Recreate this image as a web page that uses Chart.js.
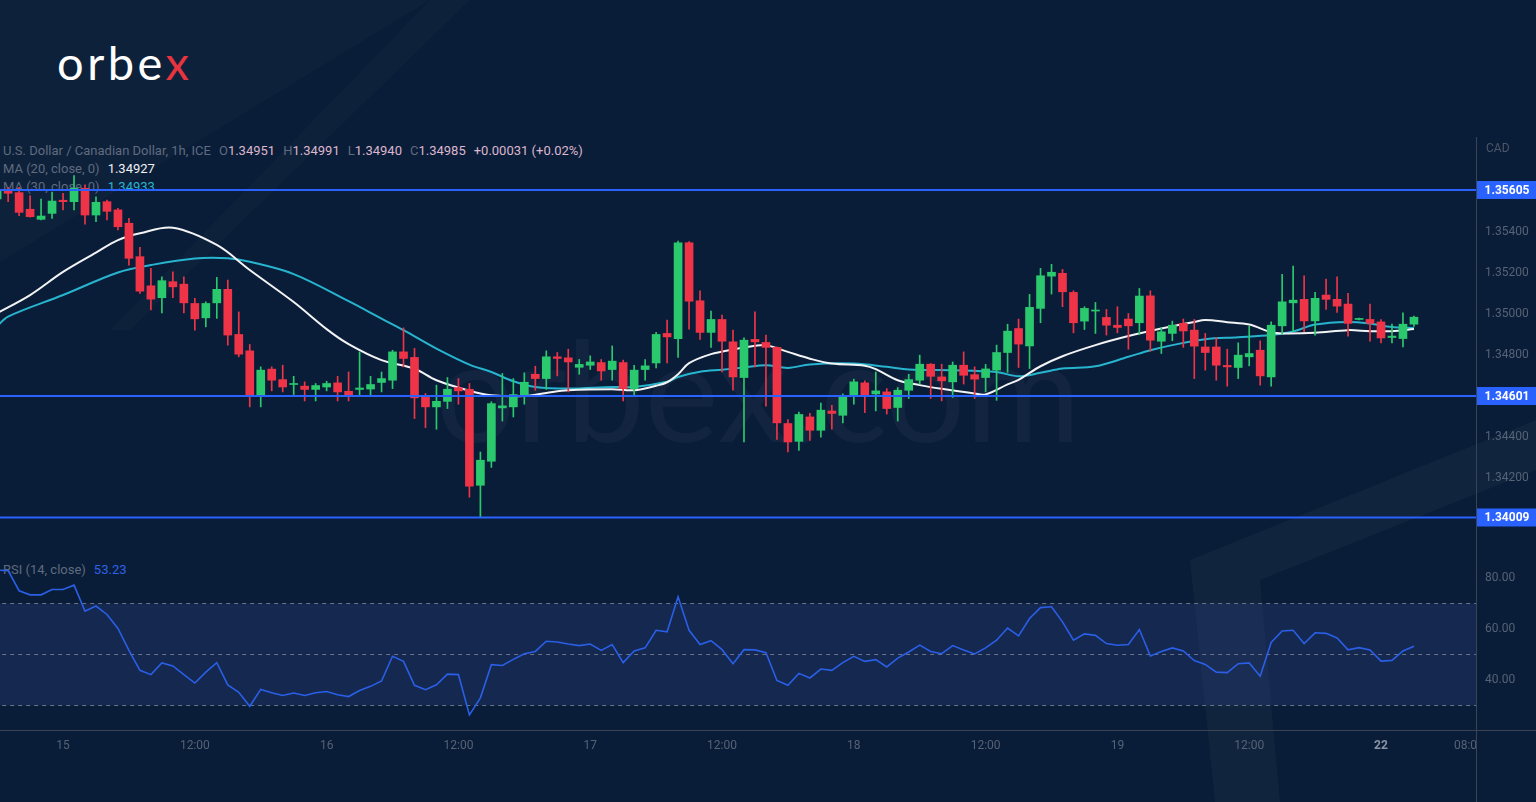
<!DOCTYPE html>
<html>
<head>
<meta charset="utf-8">
<script src="https://cdn.jsdelivr.net/npm/chart.js@4.4.1/dist/chart.umd.min.js"></script>
<style>
  html, body { margin: 0; padding: 0; }
  body {
    width: 1536px; height: 802px; overflow: hidden; position: relative;
    background: #0a1d38; font-family: Roboto, "Noto Sans", sans-serif;
  }
  .abs { position: absolute; }
  canvas { position: absolute; left: 0; z-index: 3; }
  #price { top: 137px; }
  #rsi { top: 552px; }
  .logo { left: 57px; top: 34px; font-family: Lato, sans-serif; font-size: 47px; color: #fff; letter-spacing: 3.5px; z-index: 5; }
  .logo span { color: #e8343f; }
  .mark { left: 436px; top: 318px; font-family: Lato, sans-serif; font-size: 140px; color: rgba(255,255,255,0.035); z-index: 1; line-height: 1; }
  .legend { left: 3px; font-size: 13px; color: #5f6b7e; z-index: 2; white-space: nowrap; line-height: 15px; }
  .legend .v { color: #dcb7cf; }
  .legend .g { margin-left: 8px; }
  .axisv { left: 1476px; top: 137px; width: 1px; height: 665px; background: #3a4454; z-index: 4; }
  .axish { left: 0; top: 730px; width: 1536px; height: 1px; background: #3a4454; z-index: 4; }
  .cad { left: 1486px; top: 141px; font-size: 12px; color: #4c5668; z-index: 4; }
</style>
</head>
<body>
<svg class="abs" style="left:0;top:0;z-index:0" width="1536" height="802">
  <polygon points="0,262 0,0 430,0" fill="rgba(255,255,255,0.02)"/>
  <polygon points="430,0 470,0 130,330 110,330" fill="rgba(255,255,255,0.018)"/>
  <polygon points="1190,560 1536,420 1536,470 1260,580 1280,802 1215,802" fill="rgba(255,255,255,0.03)"/>
</svg>
<div class="abs logo">orbe<span>x</span></div>
<div class="abs mark">orbex.com</div>
<div class="abs legend" style="top:143px">U.S. Dollar / Canadian Dollar, 1h, ICE<span class="g">O</span><span class="v">1.34951</span><span class="g">H</span><span class="v">1.34991</span><span class="g">L</span><span class="v">1.34940</span><span class="g">C</span><span class="v">1.34985</span><span class="g v">+0.00031 (+0.02%)</span></div>
<div class="abs legend" style="top:161px">MA (20, close, 0)<span class="g" style="color:#eef0f4">1.34927</span></div>
<div class="abs legend" style="top:179px">MA (30, close, 0)<span class="g" style="color:#27b4cf">1.34933</span></div>
<div class="abs legend" style="top:562px">RSI (14, close)<span class="g" style="color:#2c62e8">53.23</span></div>
<div class="abs cad">CAD</div>
<div class="abs axisv"></div>
<div class="abs axish"></div>
<canvas id="price" width="1536" height="415"></canvas>
<canvas id="rsi" width="1536" height="250"></canvas>
<script>
// hours counted from 15th 00:00, first candle is 14th 18:00
const firstHour = -6;

const opens = [1.35561,1.35600,1.35592,1.35511,1.35462,1.35491,1.35555,1.35548,1.35613,1.35483,1.35548,1.35508,1.35443,1.35280,1.35138,1.35080,1.35158,1.35146,1.35052,1.34982,
  1.35055,1.35121,1.34901,1.34821,1.34601,1.34732,1.34681,1.34657,1.34649,1.34633,1.34645,1.34665,1.34624,1.34633,1.34635,1.34667,1.34678,1.34816,1.34789,1.34598,
  1.34548,1.34575,1.34642,1.34633,1.34166,1.34283,1.34543,1.34548,1.34602,1.34707,1.34686,1.34792,1.34787,1.34741,1.34751,1.34764,1.34730,1.34764,1.34637,1.34730,
  1.34762,1.34906,1.34881,1.35348,1.35065,1.34911,1.34974,1.34865,1.34691,1.34877,1.34862,1.34838,1.34467,1.34380,1.34499,1.34434,1.34528,1.34507,1.34598,1.34665,
  1.34611,1.34621,1.34545,1.34629,1.34678,1.34756,1.34694,1.34670,1.34751,1.34705,1.34691,1.34727,1.34813,1.34930,1.34845,1.35028,1.35185,1.35199,1.35106,1.34966,
  1.35015,1.34984,1.34946,1.34976,1.34958,1.35089,1.34868,1.34906,1.34955,1.34922,1.34840,1.34840,1.34750,1.34740,1.34792,1.34824,1.34694,1.34943,1.35055,1.35072,
  1.34967,1.35093,1.35072,1.35049,1.34974,1.34974,1.34962,1.34886,1.34881,1.34951];
const highs = [1.35612,1.35618,1.35618,1.35576,1.35561,1.35595,1.35589,1.35675,1.35630,1.35572,1.35556,1.35516,1.35467,1.35326,1.35223,1.35182,1.35206,1.35182,1.35077,1.35060,
  1.35179,1.35166,1.35011,1.34852,1.34743,1.34743,1.34751,1.34697,1.34670,1.34662,1.34673,1.34697,1.34718,1.34816,1.34697,1.34718,1.34824,1.34933,1.34833,1.34613,
  1.34654,1.34691,1.34686,1.34662,1.34328,1.34573,1.34711,1.34686,1.34714,1.34746,1.34821,1.34813,1.34829,1.34779,1.34797,1.34779,1.34845,1.34776,1.34751,1.34779,
  1.34911,1.34971,1.35356,1.35353,1.35114,1.35015,1.34995,1.34922,1.34884,1.35011,1.34898,1.34841,1.34486,1.34523,1.34516,1.34567,1.34556,1.34611,1.34683,1.34675,
  1.34718,1.34637,1.34642,1.34707,1.34800,1.34759,1.34756,1.34767,1.34816,1.34743,1.34755,1.34849,1.34951,1.34976,1.35096,1.35223,1.35243,1.35218,1.35114,1.35036,
  1.35057,1.35023,1.35036,1.35003,1.35125,1.35114,1.34935,1.34966,1.34976,1.34974,1.34906,1.34886,1.34829,1.34860,1.34941,1.34870,1.34962,1.35194,1.35234,1.35187,
  1.35106,1.35171,1.35182,1.35101,1.34981,1.35049,1.34974,1.34951,1.35006,1.34991];
const lows = [1.35545,1.35548,1.35480,1.35472,1.35459,1.35467,1.35508,1.35508,1.35438,1.35450,1.35459,1.35410,1.35239,1.35101,1.35020,1.35006,1.35080,1.35006,1.34922,1.34938,
  1.34979,1.34849,1.34792,1.34548,1.34548,1.34626,1.34621,1.34608,1.34577,1.34577,1.34626,1.34577,1.34577,1.34601,1.34601,1.34621,1.34637,1.34743,1.34491,1.34447,
  1.34439,1.34540,1.34561,1.34108,1.34009,1.34253,1.34479,1.34499,1.34561,1.34629,1.34633,1.34699,1.34621,1.34707,1.34730,1.34678,1.34678,1.34577,1.34602,1.34678,
  1.34738,1.34762,1.34789,1.34927,1.34877,1.34838,1.34718,1.34629,1.34377,1.34743,1.34551,1.34389,1.34328,1.34336,1.34385,1.34401,1.34439,1.34470,1.34561,1.34520,
  1.34528,1.34513,1.34479,1.34589,1.34659,1.34589,1.34577,1.34594,1.34659,1.34589,1.34621,1.34580,1.34716,1.34740,1.34735,1.34958,1.35098,1.35036,1.34909,1.34925,
  1.34906,1.34898,1.34909,1.34829,1.34901,1.34819,1.34808,1.34870,1.34838,1.34686,1.34727,1.34678,1.34649,1.34686,1.34748,1.34654,1.34649,1.34902,1.34914,1.34914,
  1.34898,1.35023,1.35008,1.34893,1.34972,1.34868,1.34860,1.34860,1.34840,1.34940];
const closes = [1.35600,1.35589,1.35496,1.35475,1.35478,1.35551,1.35548,1.35613,1.35483,1.35545,1.35501,1.35426,1.35272,1.35112,1.35073,1.35163,1.35133,1.35055,1.34977,1.35052,
  1.35121,1.34898,1.34805,1.34601,1.34727,1.34678,1.34645,1.34662,1.34633,1.34652,1.34662,1.34621,1.34602,1.34640,1.34657,1.34686,1.34816,1.34784,1.34592,1.34548,
  1.34575,1.34634,1.34626,1.34161,1.34288,1.34564,1.34553,1.34608,1.34668,1.34686,1.34792,1.34784,1.34767,1.34755,1.34767,1.34723,1.34771,1.34637,1.34727,1.34748,
  1.34901,1.34889,1.35348,1.35063,1.34911,1.34974,1.34868,1.34694,1.34873,1.34865,1.34838,1.34470,1.34377,1.34511,1.34434,1.34532,1.34516,1.34598,1.34670,1.34602,
  1.34626,1.34540,1.34629,1.34681,1.34756,1.34697,1.34675,1.34751,1.34702,1.34683,1.34733,1.34813,1.34917,1.34854,1.35033,1.35187,1.35204,1.35109,1.34958,1.35028,
  1.35020,1.34946,1.34935,1.34943,1.35088,1.34873,1.34914,1.34946,1.34918,1.34844,1.34813,1.34751,1.34743,1.34800,1.34808,1.34699,1.34946,1.35060,1.35068,1.34967,
  1.35077,1.35072,1.35039,1.34955,1.34979,1.34955,1.34884,1.34893,1.34951,1.34985];

const rsi = [83.1,82.9,75.0,73.4,73.4,75.5,75.5,77.2,67.0,69.0,65.7,60.2,51.6,43.8,42.1,46.7,45.5,42.1,38.8,43.1,
  46.8,38.1,35.2,29.7,36.3,35.0,33.9,34.9,33.9,35.0,35.5,34.2,33.5,35.9,37.5,39.6,49.3,47.3,37.9,36.2,
  38.1,42.3,42.1,26.3,33.0,46.0,45.7,48.1,50.3,51.2,55.2,54.9,54.1,53.5,54.1,51.6,53.9,46.8,51.4,52.6,
  59.5,58.9,72.6,59.5,53.9,55.4,51.9,46.4,51.9,51.8,50.7,39.8,37.9,42.6,40.8,44.3,43.8,46.8,49.3,47.3,
  48.0,45.1,48.6,51.0,53.7,51.2,50.3,53.5,51.8,50.2,52.6,55.6,60.4,57.3,64.1,68.4,68.7,62.8,55.6,58.1,
  57.5,54.3,53.6,53.9,59.8,49.4,51.2,52.6,51.4,47.6,46.1,43.1,42.9,46.4,46.7,41.5,54.7,59.2,59.5,54.3,
  58.5,58.3,56.5,51.8,52.7,51.8,47.4,47.7,51.4,53.23];

const ma20Hours = [-6,-3,0,3,5,7,10,14,17,21,24,26,29,32,34,37,39,42,44,46,50,52,54,55,56,57,59,61,63,64,
  66,68,70,73,74,76,78,80,83,84,86,87,89,91,94,97,100,103,104,106,108,110,111,114,117,119,121,123];
const ma20 = [1.35005,1.35093,1.35206,1.35300,1.35361,1.35394,1.35421,1.35337,1.35215,1.35059,1.34927,1.34854,1.34776,1.34734,1.34678,1.34627,1.34605,1.34601,1.34616,1.34629,
  1.34634,1.34629,1.34651,1.34668,1.34707,1.34761,1.34805,1.34828,1.34846,1.34849,1.34816,1.34783,1.34759,1.34749,1.34732,1.34678,1.34654,1.34636,1.34613,1.34609,
  1.34658,1.34680,1.34746,1.34795,1.34849,1.34893,1.34930,1.34962,1.34971,1.34961,1.34949,1.34912,1.34906,1.34909,1.34922,1.34917,1.34917,1.34927];
const ma30Hours = [-6,-5,0,5,8,12,15,17,21,26,29,31,34,37,39,41,43,46,50,52,55,56,58,60,62,64,66,68,72,75,
  77,81,85,87,89,91,94,97,99,101,104,107,110,112,114,117,119,121,123];
const ma30 = [1.34941,1.34988,1.35093,1.35203,1.35239,1.35271,1.35272,1.35255,1.35195,1.35063,1.34978,1.34922,1.34832,1.34754,1.34718,1.34673,1.34645,1.34637,1.34645,1.34645,
  1.34670,1.34694,1.34719,1.34729,1.34740,1.34751,1.34738,1.34755,1.34759,1.34743,1.34730,1.34727,1.34718,1.34697,1.34714,1.34735,1.34746,1.34792,1.34824,1.34849,
  1.34878,1.34887,1.34898,1.34915,1.34949,1.34962,1.34954,1.34937,1.34933];

const levels = [1.35605, 1.34601, 1.34009];
const priceTicks = [1.342, 1.344, 1.346, 1.348, 1.350, 1.352, 1.354, 1.356];
const rsiTicks = [40, 60, 80];
const timeTicks = [0, 12, 24, 36, 48, 60, 72, 84, 96, 108, 120, 128];
const timeLabels = ['15', '12:00', '16', '12:00', '17', '12:00', '18', '12:00', '19', '12:00', '22', '08:00'];

const green = '#2bc96d';
const red = '#ef3447';
const bg = '#0a1d38';
const tickColor = '#566275';
const xMin = -5.74, xMax = 128.65;

const hours = opens.map((_, i) => firstHour + i);
const upColor = (i) => closes[i] >= opens[i] ? green : red;

// fixed-width right axis with no extra label padding, so panes line up with the picture
const fitRight = (s) => {
  s.width = 60;
  s.paddingTop = 0;
  s.paddingBottom = 0;
};

// level tags on the price axis
const levelTags = {
  id: 'levelTags',
  afterDraw(chart) {
    const {ctx, chartArea, scales} = chart;
    ctx.save();
    ctx.font = 'bold 12px Roboto';
    ctx.textAlign = 'center';
    ctx.textBaseline = 'middle';
    levels.forEach(v => {
      const y = scales.y.getPixelForValue(v);
      ctx.fillStyle = '#2962ff';
      ctx.fillRect(chartArea.right + 1, y - 9, 60, 18);
      ctx.fillStyle = '#ffffff';
      ctx.fillText(v.toFixed(5), chartArea.right + 31, y + 1);
    });
    ctx.restore();
  }
};

new Chart(document.getElementById('price'), {
  type: 'bar',
  data: {
    datasets: [
      ...levels.map(v => ({
        type: 'line',
        data: [{x: -7, y: v}, {x: 130, y: v}],
        borderColor: '#2962ff',
        borderWidth: 2,
        pointRadius: 0,
        order: 0
      })),
      {
        label: 'bodies',
        data: hours.map((h, i) => ({x: h, y: [opens[i], closes[i]]})),
        backgroundColor: (c) => upColor(c.dataIndex),
        barThickness: 8,
        minBarLength: 1,
        grouped: false,
        order: 1
      },
      {
        label: 'wicks',
        data: hours.map((h, i) => ({x: h, y: [lows[i], highs[i]]})),
        backgroundColor: (c) => upColor(c.dataIndex),
        barThickness: 1,
        grouped: false,
        order: 2
      },
      {
        type: 'line',
        label: 'MA 20',
        data: ma20Hours.map((h, i) => ({x: h, y: ma20[i]})),
        borderColor: '#f2f3f5',
        borderWidth: 2,
        pointRadius: 0,
        tension: 0.35,
        order: 3
      },
      {
        type: 'line',
        label: 'MA 30',
        data: ma30Hours.map((h, i) => ({x: h, y: ma30[i]})),
        borderColor: '#27b4cf',
        borderWidth: 2,
        pointRadius: 0,
        tension: 0.35,
        order: 3
      }
    ]
  },
  options: {
    responsive: false,
    animation: false,
    layout: { padding: 0 },
    plugins: { legend: { display: false }, tooltip: { enabled: false } },
    scales: {
      x: {
        type: 'linear',
        min: xMin,
        max: xMax,
        offset: false,
        display: false
      },
      y: {
        position: 'right',
        min: 1.338408,
        max: 1.358632,
        beginAtZero: false,
        afterFit: fitRight,
        afterBuildTicks: (s) => { s.ticks = priceTicks.map(v => ({value: v})); },
        grid: { display: false, drawTicks: false },
        border: { display: false },
        ticks: {
          padding: 9,
          color: tickColor,
          font: { size: 12, family: 'Roboto' },
          callback: (v) => v.toFixed(5)
        }
      }
    }
  },
  plugins: [levelTags]
});

// hide the part of the last time label that runs under the price axis
const axisCorner = {
  id: 'axisCorner',
  afterDraw(chart) {
    const {ctx, chartArea} = chart;
    ctx.save();
    ctx.fillStyle = bg;
    ctx.fillRect(chartArea.right, chartArea.bottom + 1, chart.width - chartArea.right, chart.height - chartArea.bottom);
    ctx.restore();
  }
};

const hLine = (v, extra) => Object.assign({
  data: [{x: -7, y: v}, {x: 130, y: v}],
  borderColor: '#6b7385',
  borderWidth: 1,
  borderDash: [4, 4],
  pointRadius: 0
}, extra);

new Chart(document.getElementById('rsi'), {
  type: 'line',
  data: {
    datasets: [
      {
        label: 'RSI',
        data: hours.map((h, i) => ({x: h, y: rsi[i]})),
        borderColor: '#2a5fe6',
        borderWidth: 1.6,
        pointRadius: 0,
        tension: 0,
        order: 0
      },
      hLine(70, { fill: { target: { value: 30 } }, backgroundColor: 'rgba(60,80,170,0.22)', order: 2 }),
      hLine(50, { order: 1 }),
      hLine(30, { order: 1 })
    ]
  },
  options: {
    responsive: false,
    animation: false,
    layout: { padding: { top: 3 } },
    plugins: { legend: { display: false }, tooltip: { enabled: false } },
    scales: {
      x: {
        type: 'linear',
        min: xMin,
        max: xMax,
        afterFit: (s) => { s.height = 72; s.paddingLeft = 0; s.paddingRight = 0; },
        afterBuildTicks: (s) => { s.ticks = timeTicks.map(v => ({value: v})); },
        grid: { display: false, drawTicks: false },
        border: { display: false },
        ticks: {
          padding: 9,
          maxRotation: 0,
          autoSkip: false,
          color: (c) => c.tick && c.tick.value === 120 ? '#8a93a3' : tickColor,
          font: (c) => ({ size: 12, family: 'Roboto', weight: c.tick && c.tick.value === 120 ? 'bold' : 'normal' }),
          callback: (v) => timeLabels[timeTicks.indexOf(v)]
        }
      },
      y: {
        position: 'right',
        min: 20.39,
        max: 89.02,
        afterFit: fitRight,
        afterBuildTicks: (s) => { s.ticks = rsiTicks.map(v => ({value: v})); },
        grid: { display: false, drawTicks: false },
        border: { display: false },
        ticks: {
          padding: 9,
          color: tickColor,
          font: { size: 12, family: 'Roboto' },
          callback: (v) => v.toFixed(2)
        }
      }
    }
  },
  plugins: [axisCorner]
});
</script>
</body>
</html>
